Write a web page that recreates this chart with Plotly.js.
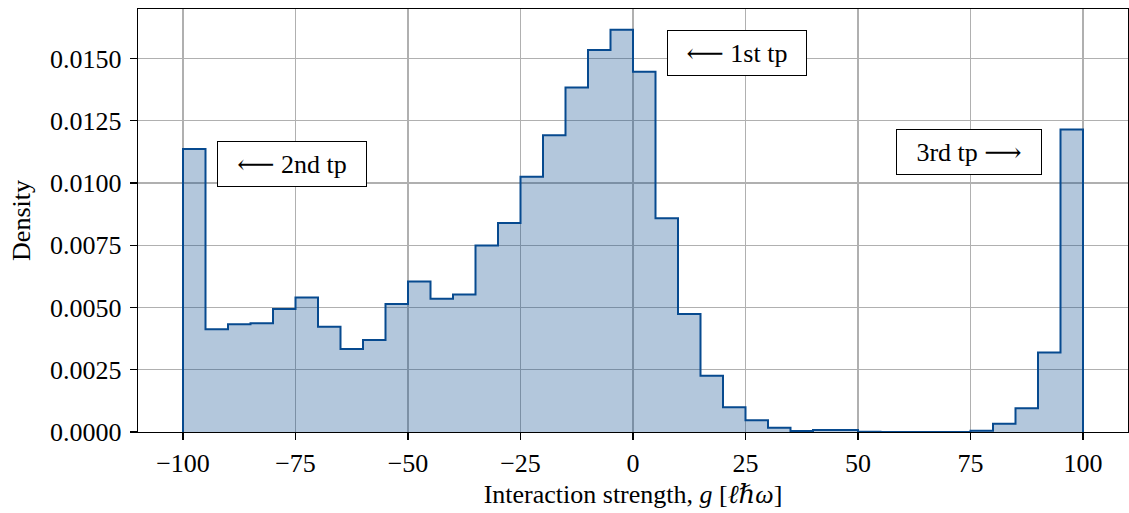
<!DOCTYPE html>
<html>
<head>
<meta charset="utf-8">
<script src="https://cdn.plot.ly/plotly-3.0.1.min.js"></script>
<style>
  html, body { margin: 0; padding: 0; background: #fff; }
  #chart { width: 1129px; height: 513px; }
</style>
</head>
<body>
<div id="chart"></div>
<script>
// Bin edges (width 5) of the histogram of g
const binEdges = [-100, -95, -90, -85, -80, -75, -70, -65, -60, -55, -50, -45, -40, -35, -30, -25, -20, -15, -10, -5,
                  0, 5, 10, 15, 20, 25, 30, 35, 40, 45, 50, 55, 60, 65, 70, 75, 80, 85, 90, 95, 100];
// Density per bin
const density = [0.01137, 0.00413, 0.00433, 0.00437, 0.00494, 0.00540, 0.00423, 0.00333, 0.00370, 0.00514,
                 0.00604, 0.00535, 0.00552, 0.00749, 0.00839, 0.01025, 0.01192, 0.01384, 0.01534, 0.01616,
                 0.01447, 0.00859, 0.00474, 0.00226, 0.00099, 0.00047, 0.00017, 0.00004, 0.00008, 0.00008,
                 0.00001, 0.0, 0.0, 0.0, 0.0, 0.00005, 0.00033, 0.00095, 0.00319, 0.01215];

const xTickVals = [-100, -75, -50, -25, 0, 25, 50, 75, 100];
const xTickText = ['\u2212100', '\u221275', '\u221250', '\u221225', '0', '25', '50', '75', '100'];
const yTickVals = [0, 0.0025, 0.005, 0.0075, 0.01, 0.0125, 0.015];
const yTickText = ['0.0000', '0.0025', '0.0050', '0.0075', '0.0100', '0.0125', '0.0150'];

const annotationTexts = ['\u27F5 2nd tp', '\u27F5 1st tp', '3rd tp \u27F6'];
const annotationX = [-75.8, 23.1, 74.6];
const annotationY = [0.01075, 0.01524, 0.01125];
const annotationW = [148, 138, 144];

// step outline: closed at both ends on the baseline
const stepX = [binEdges[0]].concat(binEdges.slice(0, density.length)).concat([binEdges[binEdges.length - 1]]);
const stepY = [0].concat(density).concat([0]);

const FONT = 'Liberation Serif, DejaVu Serif, serif';

const trace = {
  type: 'scatter',
  mode: 'lines',
  x: stepX,
  y: stepY,
  line: { shape: 'hv', color: '#074a8f', width: 2 },
  fill: 'tozeroy',
  fillcolor: 'rgba(2,68,138,0.30)',
  hoverinfo: 'skip',
  showlegend: false
};

const annotations = annotationTexts.map((t, i) => ({
  x: annotationX[i], y: annotationY[i], xref: 'x', yref: 'y',
  text: t, showarrow: false,
  xanchor: 'center', yanchor: 'middle',
  font: { family: FONT, size: 26, color: '#000' },
  bgcolor: '#fff', bordercolor: '#000', borderwidth: 1, borderpad: 0,
  width: annotationW[i], height: 44
}));

const layout = {
  width: 1129, height: 513,
  margin: { l: 138, r: 1, t: 9, b: 81 },
  paper_bgcolor: '#fff', plot_bgcolor: '#fff',
  font: { family: FONT, size: 26, color: '#000' },
  xaxis: {
    range: [-110, 110],
    tickmode: 'array', tickvals: xTickVals, ticktext: xTickText,
    ticks: 'outside', ticklen: 7, tickwidth: 1.2, tickcolor: '#000',
    showgrid: true, gridcolor: '#b0b0b0', gridwidth: 1.4,
    showline: true, linecolor: '#000', linewidth: 1.3, mirror: true,
    zeroline: false,
    tickfont: { family: FONT, size: 26 },
    title: { text: 'Interaction strength, <i>g</i> [<i>\u2113\u210F\u03C9</i>]', font: { family: FONT, size: 26 }, standoff: 8 }
  },
  yaxis: {
    range: [0, 0.01699],
    tickmode: 'array', tickvals: yTickVals, ticktext: yTickText,
    ticks: 'outside', ticklen: 7, tickwidth: 1.2, tickcolor: '#000',
    ticklabelstandoff: 3,
    showgrid: true, gridcolor: '#b0b0b0', gridwidth: 1.4,
    showline: true, linecolor: '#000', linewidth: 1.3, mirror: true,
    zeroline: false,
    tickfont: { family: FONT, size: 26 },
    title: { text: 'Density', font: { family: FONT, size: 26 }, standoff: 12 }
  },
  annotations: annotations
};

Plotly.newPlot('chart', [trace], layout, { staticPlot: true, displayModeBar: false });
</script>
</body>
</html>
